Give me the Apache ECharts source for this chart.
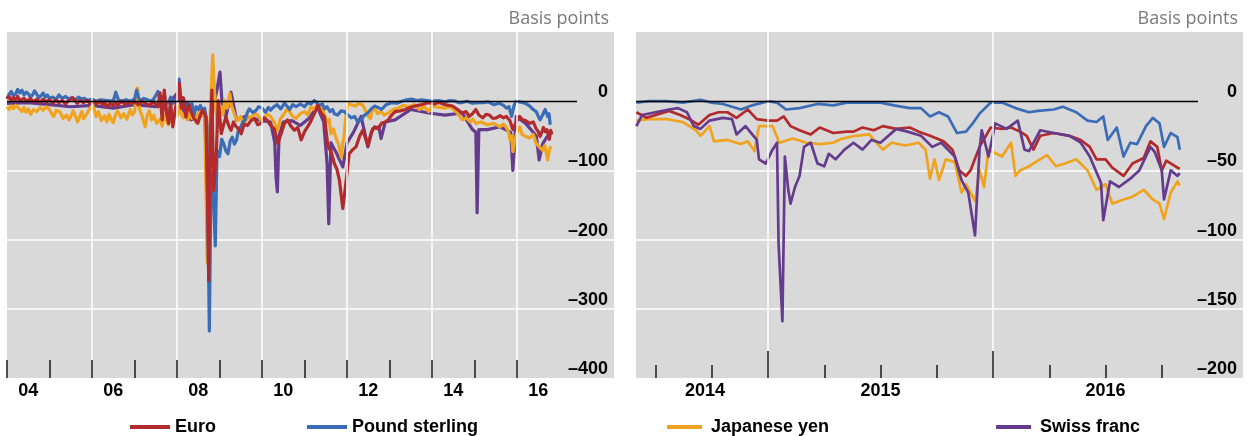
<!DOCTYPE html>
<html>
<head>
<meta charset="utf-8">
<script src="https://cdn.jsdelivr.net/npm/echarts@6/dist/echarts.min.js"></script>
<style>
  html, body { margin: 0; padding: 0; background: #fff; }
  #chart { width: 1249px; height: 436px; }
</style>
</head>
<body>
<div id="chart"></div>
<script>
// Cross-currency basis against the US dollar, in basis points.
// Dates are decimal years.

// ---- Left panel: 2004 onwards ----
const euroFull = [
  [2004.00,3],[2004.05,7],[2004.10,1],[2004.15,5],[2004.20,2],[2004.25,7],[2004.30,1],[2004.40,4],[2004.48,0],
  [2004.55,4],[2004.62,-1],[2004.70,3],[2004.78,-2],[2004.85,3],[2004.92,-1],
  [2005.00,2],[2005.08,-3],[2005.15,2],[2005.22,-2],[2005.30,1],[2005.38,-4],[2005.45,1],[2005.55,5],[2005.65,-3],
  [2005.72,1],[2005.80,-2],[2005.88,1],[2005.95,-3],
  [2006.05,0],[2006.10,-4],[2006.18,0],[2006.25,-5],[2006.30,-1],[2006.35,-9],[2006.42,-3],[2006.50,-6],[2006.55,-1],
  [2006.60,-6],[2006.70,0],[2006.78,-5],[2006.85,-1],[2006.92,-4],
  [2007.00,-1],[2007.10,-5],[2007.18,0],[2007.25,-3],[2007.35,-6],[2007.45,-1],[2007.55,-8],[2007.60,12],[2007.65,-27],
  [2007.70,16],[2007.75,-15],[2007.80,-32],[2007.85,-2],[2007.90,-37],[2007.97,-8],
  [2008.05,26],[2008.10,-10],[2008.15,5],[2008.21,-23],[2008.27,-5],[2008.33,-15],[2008.40,-25],[2008.49,-32],
  [2008.55,-20],[2008.60,-13],[2008.68,-22],[2008.72,-153],[2008.745,-259],[2008.78,-57],[2008.82,16],
  [2008.86,-129],[2008.92,-81],[2008.97,1],
  [2009.04,-47],[2009.10,-33],[2009.15,-23],[2009.22,-36],[2009.27,-42],[2009.33,-30],[2009.38,-36],[2009.45,-40],
  [2009.51,-47],[2009.58,-33],[2009.66,-35],[2009.74,-28],[2009.82,-25],[2009.90,-34],[2009.98,-32],
  [2010.05,-24],[2010.13,-28],[2010.20,-35],[2010.29,-40],[2010.37,-61],[2010.45,-47],[2010.52,-33],[2010.60,-27],
  [2010.68,-36],[2010.76,-42],[2010.84,-38],[2010.92,-56],
  [2011.00,-44],[2011.07,-37],[2011.14,-30],[2011.20,-22],[2011.26,-14],[2011.31,-6],[2011.40,-18],[2011.47,-23],
  [2011.55,-66],[2011.62,-72],[2011.70,-90],[2011.76,-98],
  [2011.82,-114],[2011.90,-155],[2011.98,-114],[2012.05,-76],[2012.13,-70],[2012.21,-66],[2012.30,-50],[2012.37,-42],
  [2012.49,-64],[2012.57,-45],[2012.65,-37],[2012.73,-40],[2012.81,-32],[2012.90,-30],[2012.97,-27],[2013.05,-20],
  [2013.13,-15],[2013.25,-14],[2013.37,-12],[2013.48,-9],
  [2013.60,-7],[2013.75,-5],[2013.92,-2],[2014.05,-4],[2014.16,-2],[2014.30,-5],[2014.48,-7],[2014.60,-12],
  [2014.71,-17],[2014.80,-15],[2014.87,-22],[2014.95,-18],[2015.03,-12],[2015.10,-20],
  [2015.19,-24],[2015.27,-19],[2015.35,-20],[2015.43,-25],[2015.51,-24],[2015.60,-21],[2015.68,-24],[2015.75,-22],
  [2015.83,-28],[2015.90,-41],[2015.98,-30],[2016.06,-22],[2016.13,-27],[2016.20,-28],
  [2016.30,-32],[2016.38,-30],[2016.45,-40],[2016.50,-44],[2016.54,-51],[2016.58,-45],[2016.62,-38],[2016.66,-44],
  [2016.70,-41],[2016.73,-48],[2016.76,-55],[2016.79,-42],[2016.82,-48]
];
const poundFull = [
  [2004.00,4],[2004.05,10],[2004.10,14],[2004.15,8],[2004.20,10],[2004.25,17],[2004.30,12],[2004.35,16],[2004.40,9],
  [2004.45,13],[2004.50,11],[2004.55,6],[2004.60,9],[2004.65,15],[2004.70,10],[2004.75,5],[2004.80,8],[2004.85,12],
  [2004.90,6],[2004.95,9],[2005.00,4],[2005.08,6],[2005.15,2],[2005.22,9],[2005.30,4],[2005.38,7],[2005.45,3],
  [2005.52,5],[2005.60,1],[2005.68,6],[2005.75,3],[2005.82,4],[2005.90,1],[2006.00,3],[2006.10,0],[2006.20,2],
  [2006.35,1],[2006.50,0],[2006.56,13],[2006.62,2],[2006.70,0],[2006.80,2],[2006.90,0],
  [2007.00,3],[2007.05,16],[2007.10,4],[2007.15,1],[2007.22,4],[2007.30,2],[2007.38,0],[2007.45,3],[2007.55,14],
  [2007.60,2],[2007.65,7],[2007.72,-4],[2007.80,-2],[2007.85,6],
  [2007.90,-3],[2008.00,3],[2008.05,32],[2008.10,-5],[2008.15,4],[2008.20,-12],[2008.25,-2],[2008.30,-8],[2008.35,-3],
  [2008.40,-20],[2008.45,-8],[2008.50,-12],
  [2008.55,-6],[2008.60,-15],[2008.65,-10],[2008.70,-30],[2008.76,-332],[2008.80,-105],[2008.86,-143],[2008.90,-209],
  [2008.94,-71],[2009.00,-80],[2009.05,-55],[2009.10,-62],[2009.15,-72],[2009.20,-76],[2009.25,-58],[2009.30,-52],
  [2009.35,-62],[2009.40,-56],[2009.45,-40],[2009.50,-37],[2009.55,-30],[2009.60,-27],[2009.65,-17],
  [2009.70,-11],[2009.78,-16],[2009.85,-14],[2009.92,-8],[2010.00,-10],[2010.08,-16],[2010.15,-9],[2010.20,-13],
  [2010.28,-8],[2010.35,-5],[2010.44,-11],[2010.53,-3],[2010.60,-8],[2010.65,-12],
  [2010.72,-5],[2010.80,-8],[2010.90,-4],[2011.00,-8],[2011.08,-2],[2011.15,-4],[2011.23,1],[2011.30,-3],[2011.35,-6],
  [2011.42,-4],[2011.47,-11],[2011.53,-8],[2011.60,-15],[2011.66,-12],[2011.70,-18],[2011.78,-20],[2011.86,-14],
  [2011.94,-15],[2012.02,-20],[2012.10,-24],[2012.18,-22],[2012.25,-30],[2012.33,-27],[2012.41,-20],[2012.49,-17],
  [2012.57,-11],[2012.65,-7],[2012.73,-9],[2012.81,-12],[2012.92,-5],
  [2013.05,-2],[2013.17,-3],[2013.29,0],[2013.40,2],[2013.52,3],[2013.64,1],[2013.76,2],[2013.88,1],[2014.00,0],
  [2014.15,1],[2014.30,-1],[2014.42,1],[2014.55,0],[2014.62,-2],[2014.70,-2],[2014.82,0],
  [2014.95,-3],[2015.08,-2],[2015.20,-2],[2015.32,-1],[2015.45,-5],[2015.58,-3],[2015.68,-6],[2015.75,-10],
  [2015.81,-8],[2015.87,-22],[2015.93,-6],[2015.98,0],[2016.06,-1],[2016.14,-2],[2016.22,-4],[2016.30,-7],
  [2016.38,-12],[2016.45,-15],[2016.50,-22],[2016.54,-27],[2016.60,-20],[2016.66,-12],[2016.72,-22],[2016.75,-18],
  [2016.78,-34]
];
const yenFull = [
  [2004.00,-8],[2004.05,-12],[2004.10,-7],[2004.15,-11],[2004.20,-6],[2004.28,-10],[2004.35,-15],[2004.40,-9],
  [2004.45,-16],[2004.50,-11],[2004.56,-19],[2004.62,-12],[2004.70,-15],[2004.78,-9],[2004.85,-13],[2004.92,-8],
  [2005.00,-12],[2005.05,-18],[2005.10,-22],[2005.16,-13],[2005.25,-16],[2005.32,-25],[2005.40,-20],[2005.46,-27],
  [2005.50,-22],[2005.56,-14],[2005.60,-20],[2005.66,-30],[2005.70,-24],[2005.76,-15],[2005.80,-25],[2005.88,-18],
  [2005.95,-10],[2006.02,-6],[2006.05,-12],[2006.10,-22],[2006.15,-15],[2006.22,-28],[2006.30,-21],[2006.35,-30],
  [2006.40,-19],[2006.45,-26],[2006.50,-31],[2006.55,-20],[2006.60,-14],[2006.68,-24],[2006.75,-18],[2006.82,-26],
  [2006.90,-12],[2006.95,-20],[2007.00,-15],[2007.07,19],[2007.12,-12],[2007.18,-22],[2007.25,-37],[2007.30,-20],
  [2007.35,-14],[2007.40,-27],[2007.45,-20],[2007.52,-32],[2007.60,-26],[2007.65,-36],[2007.70,-20],[2007.75,-28],
  [2007.80,-34],[2007.85,-20],[2007.90,-27],[2007.95,-14],[2008.00,-22],[2008.05,-8],
  [2008.10,-18],[2008.15,-24],[2008.20,-15],[2008.25,-27],[2008.30,-18],[2008.35,-25],[2008.40,-20],[2008.45,-31],
  [2008.50,-18],[2008.55,-10],[2008.60,-20],[2008.65,-13],[2008.71,-233],
  [2008.76,-57],[2008.84,67],[2008.88,15],[2008.95,-37],[2009.00,-15],[2009.04,-8],[2009.08,-20],[2009.12,1],
  [2009.18,-10],[2009.24,11],[2009.28,-6],
  [2009.32,-13],[2009.38,-24],[2009.43,-28],[2009.50,-22],[2009.56,-33],[2009.60,-30],[2009.68,-22],[2009.75,-25],
  [2009.82,-17],[2009.90,-20],[2009.98,-28],[2010.05,-25],[2010.12,-18],[2010.20,-22],[2010.28,-30],
  [2010.37,-42],[2010.43,-26],[2010.50,-20],[2010.58,-12],[2010.65,-15],[2010.72,-22],[2010.80,-25],[2010.90,-18],
  [2011.00,-15],[2011.08,-20],[2011.15,-8],[2011.22,-12],[2011.30,-5],[2011.38,-10],
  [2011.45,-15],[2011.52,-30],[2011.58,-26],[2011.62,-47],[2011.68,-40],[2011.75,-55],[2011.80,-62],[2011.86,-81],
  [2011.90,-60],[2011.93,-50],[2011.97,-22],[2012.02,-3],[2012.10,-5],
  [2012.20,-7],[2012.28,-3],[2012.37,-6],[2012.45,-15],[2012.50,-22],[2012.55,-25],[2012.60,-12],[2012.65,-10],
  [2012.72,-18],[2012.80,-15],[2012.88,-20],[2012.97,-17],
  [2013.08,-12],[2013.20,-10],[2013.32,-6],[2013.45,-8],[2013.58,-5],[2013.70,-12],[2013.82,-8],[2013.92,-15],
  [2014.00,-7],[2014.15,-9],[2014.30,-10],[2014.42,-8],[2014.55,-14],[2014.63,-20],
  [2014.71,-27],[2014.80,-24],[2014.90,-30],[2014.96,-26],[2015.03,-32],[2015.15,-30],[2015.30,-34],[2015.45,-32],
  [2015.60,-37],[2015.68,-33],[2015.75,-38],[2015.80,-45],[2015.83,-56],[2015.87,-50],
  [2015.90,-73],[2015.95,-55],[2016.00,-45],[2016.06,-37],[2016.12,-48],[2016.20,-51],[2016.30,-53],[2016.38,-48],
  [2016.45,-61],[2016.52,-66],[2016.60,-71],[2016.65,-64],[2016.70,-78],[2016.72,-85],[2016.76,-70],
  [2016.80,-65]
];
const swissFull = [
  [2004.00,-3],[2004.50,-2],[2005.00,-5],[2005.50,-8],[2006.00,-6],[2006.50,-10],[2007.00,-5],[2007.50,-8],
  [2007.70,5],[2007.80,-32],[2007.85,0],[2008.00,11],[2008.20,-20],[2008.33,-27],[2008.50,-22],[2008.65,-20],
  [2008.70,-100],[2008.73,-153],[2008.77,-40],[2008.85,-10],[2008.95,20],[2009.01,42],[2009.06,-3],
  [2009.15,-23],[2009.27,13],[2009.40,-27],[2009.60,-22],[2009.80,-25],[2010.00,-28],[2010.20,-30],
  [2010.30,-60],[2010.33,-110],[2010.36,-131],[2010.40,-50],[2010.50,-30],[2010.70,-28],[2010.90,-35],
  [2011.10,-25],[2011.30,-8],[2011.45,-30],[2011.53,-90],[2011.57,-177],[2011.62,-60],[2011.75,-75],
  [2011.90,-95],[2012.00,-60],[2012.15,-45],[2012.33,-22],[2012.49,-66],[2012.60,-40],[2012.75,-37],
  [2012.80,-54],[2012.90,-30],[2013.13,-27],[2013.50,-12],[2013.92,-17],[2014.30,-20],[2014.71,-17],
  [2014.95,-41],[2015.03,-45],[2015.06,-161],[2015.10,-41],[2015.30,-41],[2015.60,-37],[2015.85,-45],
  [2015.90,-100],[2015.98,-22],[2016.20,-32],[2016.45,-50],[2016.52,-85],[2016.60,-62],[2016.70,-52],
  [2016.80,-45]
];

// ---- Right panel: mid-2014 onwards ----
const euroRecent = [
  [2014.415,-8],[2014.46,-12],[2014.52,-9],[2014.56,-7],[2014.61,-10],[2014.65,-13],[2014.69,-17],[2014.74,-10],
  [2014.78,-8],[2014.82,-8],[2014.86,-12],[2014.91,-6],[2014.95,-13],[2015.00,-14],[2015.04,-14],[2015.07,-11],
  [2015.10,-18],[2015.14,-21],[2015.19,-24],[2015.23,-19],[2015.29,-23],[2015.35,-22],[2015.38,-22],
  [2015.42,-19],[2015.47,-21],[2015.51,-18],[2015.57,-20],[2015.63,-19],[2015.67,-22],[2015.72,-25],
  [2015.78,-29],[2015.82,-35],[2015.85,-50],[2015.88,-54],[2015.90,-50],[2015.94,-33],[2015.99,-19],
  [2016.04,-20],[2016.08,-19],[2016.12,-22],[2016.15,-25],[2016.18,-35],[2016.21,-25],[2016.27,-23],
  [2016.34,-25],[2016.39,-28],[2016.43,-33],[2016.46,-42],[2016.50,-42],[2016.53,-48],[2016.58,-54],
  [2016.62,-45],[2016.67,-41],[2016.70,-29],[2016.73,-33],[2016.75,-50],[2016.77,-43],[2016.80,-46],
  [2016.83,-49]
];
const poundRecent = [
  [2014.415,-1],[2014.47,0],[2014.55,0],[2014.62,-1],[2014.70,1],[2014.75,-1],[2014.80,-2],[2014.88,-6],
  [2014.93,-3],[2015.00,0],[2015.04,-1],[2015.08,-6],[2015.14,-5],[2015.22,-2],[2015.29,-3],[2015.35,-1],
  [2015.42,-1],[2015.50,-1],[2015.56,-3],[2015.63,-5],[2015.68,-5],[2015.72,-11],[2015.76,-8],[2015.80,-11],
  [2015.84,-23],[2015.88,-22],[2015.91,-16],[2015.94,-9],[2015.99,-1],[2016.04,-1],[2016.10,-5],[2016.16,-8],
  [2016.20,-7],[2016.27,-6],[2016.31,-4],[2016.37,-8],[2016.42,-14],[2016.46,-15],[2016.49,-11],[2016.51,-28],
  [2016.55,-19],[2016.58,-40],[2016.61,-30],[2016.64,-31],[2016.68,-18],[2016.71,-12],[2016.74,-16],
  [2016.76,-33],[2016.79,-23],[2016.82,-26],[2016.83,-35]
];
const yenRecent = [
  [2014.415,-14],[2014.47,-13],[2014.55,-13],[2014.62,-15],[2014.68,-21],[2014.70,-25],[2014.74,-18],
  [2014.76,-29],[2014.82,-28],[2014.88,-31],[2014.91,-29],[2014.94,-36],[2014.96,-18],[2015.02,-18],
  [2015.05,-30],[2015.11,-27],[2015.17,-30],[2015.23,-31],[2015.29,-30],[2015.33,-27],[2015.39,-25],
  [2015.45,-24],[2015.51,-35],[2015.55,-30],[2015.61,-32],[2015.67,-30],[2015.70,-35],[2015.72,-56],
  [2015.74,-42],[2015.76,-57],[2015.79,-42],[2015.83,-44],[2015.86,-66],[2015.88,-60],[2015.92,-72],
  [2015.94,-50],[2015.96,-62],[2015.98,-35],[2016.04,-40],[2016.08,-30],[2016.10,-54],[2016.12,-50],
  [2016.16,-47],[2016.20,-43],[2016.24,-39],[2016.28,-47],[2016.32,-45],[2016.37,-42],[2016.42,-50],
  [2016.46,-64],[2016.50,-60],[2016.53,-74],[2016.58,-71],[2016.62,-69],[2016.67,-64],[2016.71,-71],
  [2016.74,-74],[2016.76,-85],[2016.79,-66],[2016.82,-58],[2016.83,-61]
];
const swissRecent = [
  [2014.415,-18],[2014.44,-10],[2014.50,-8],[2014.56,-6],[2014.60,-5],[2014.64,-8],[2014.67,-18],[2014.70,-20],
  [2014.74,-14],[2014.80,-12],[2014.84,-13],[2014.86,-24],[2014.90,-18],[2014.95,-28],[2014.96,-42],
  [2014.99,-45],[2015.02,-35],[2015.04,-30],[2015.047,-103],[2015.064,-159],[2015.075,-40],[2015.09,-64],
  [2015.10,-74],[2015.12,-62],[2015.14,-54],[2015.16,-33],[2015.19,-30],[2015.22,-45],[2015.25,-47],
  [2015.27,-38],[2015.30,-42],[2015.34,-35],[2015.38,-30],[2015.42,-35],[2015.46,-28],[2015.50,-30],
  [2015.57,-20],[2015.62,-22],[2015.68,-25],[2015.73,-33],[2015.77,-30],[2015.83,-40],[2015.86,-57],
  [2015.89,-66],[2015.92,-97],[2015.94,-35],[2015.95,-21],[2015.98,-40],[2016.01,-16],[2016.06,-20],
  [2016.11,-14],[2016.14,-35],[2016.16,-36],[2016.21,-21],[2016.27,-23],[2016.34,-25],[2016.39,-30],
  [2016.43,-40],[2016.48,-59],[2016.49,-86],[2016.52,-58],[2016.56,-62],[2016.61,-56],[2016.65,-50],
  [2016.70,-33],[2016.72,-37],[2016.75,-50],[2016.76,-71],[2016.79,-50],[2016.82,-54],[2016.83,-52]
];

// ---- Axis ticks and labels ----
const leftTickYears = [2004,2005,2006,2007,2008,2009,2010,2011,2012,2013,2014,2015,2016];
const leftGridYears = [2006,2008,2010,2012,2014,2016];
const leftLabelYears = [2004.5,2006.5,2008.5,2010.5,2012.5,2014.5,2016.5];
const rightQuarterTicks = [2014.5,2014.75,2015.25,2015.5,2015.75,2016.25,2016.5,2016.75];
const rightYearTicks = [2015,2016];
const rightGridYears = [2015,2016];
const rightLabelYears = [2014.72,2015.5,2016.5];

const COLORS = { euro: '#b22a2b', pound: '#3a6db5', yen: '#f0a31e', swiss: '#653c8d' };
const BOLD = '"Liberation Sans", Arial, sans-serif';
const LIGHT = '"Open Sans", "Noto Sans", sans-serif';

const LEFT_X = [2004, 2018.28];
const RIGHT_X = [2014.4133, 2017.1111];

function xAxisFor(grid, range, ticks, tickLen, labels, fmt) {
  return {
    type: 'value', gridIndex: grid, position: 'bottom', offset: 0, z: 10,
    min: range[0], max: range[1],
    axisLine: { show: false, onZero: false },
    splitLine: { show: false },
    axisTick: { show: true, inside: true, length: tickLen, customValues: ticks,
                lineStyle: { color: '#1a1a1a', width: 1.5 } },
    axisLabel: labels ? {
      customValues: labels, formatter: fmt, margin: 4,
      fontFamily: BOLD, fontWeight: 'bold', fontSize: 18, color: '#000'
    } : { show: false }
  };
}

function yAxisFor(grid, min, max, step) {
  return {
    type: 'value', gridIndex: grid, position: 'right', min: min, max: max, interval: step,
    name: 'Basis points', nameLocation: 'end', nameGap: 4,
    nameTextStyle: { fontFamily: LIGHT, fontSize: 18, color: '#7a7a7a', align: 'right',
                     verticalAlign: 'bottom', padding: [0, 5, 0, 0] },
    axisLine: { show: false }, axisTick: { show: false },
    axisLabel: {
      inside: true, margin: 6, verticalAlign: 'bottom', showMaxLabel: false,
      fontFamily: BOLD, fontWeight: 'bold', fontSize: 18, color: '#000',
      formatter: v => String(v).replace('-', '\u2013')
    },
    splitLine: { show: true, lineStyle: { width: 1.5,
      color: ['rgba(0,0,0,0)', '#fff', '#fff', '#fff', 'rgba(0,0,0,0)', 'rgba(0,0,0,0)'] } }
  };
}

function frame(axis, gridYears, zeroFrom, zeroTo) {
  return {
    type: 'line', xAxisIndex: axis, yAxisIndex: axis === 0 ? 0 : 1, data: [], silent: true,
    markLine: {
      silent: true, animation: false, symbol: ['none', 'none'], label: { show: false },
      emphasis: { disabled: true },
      lineStyle: { color: '#fff', width: 1.5, type: 'solid' },
      data: gridYears.map(y => ({ xAxis: y })).concat([[
        { coord: [zeroFrom, 0], lineStyle: { color: '#000', width: 1.3, type: 'solid' } },
        { coord: [zeroTo, 0] }
      ]])
    }
  };
}

function line(name, data, xi, yi, color, w) {
  return {
    name: name, type: 'line', xAxisIndex: xi, yAxisIndex: yi, data: data,
    symbol: 'none', showSymbol: false,
    lineStyle: { color: color, width: w, join: 'round' }, itemStyle: { color: color }
  };
}

const legendText = { fontFamily: BOLD, fontWeight: 'bold', fontSize: 18, color: '#000' };

const option = {
  animation: false,
  backgroundColor: '#fff',
  grid: [
    { left: 7, top: 32, width: 607, height: 346, show: true, backgroundColor: '#d9d9d9', borderWidth: 0 },
    { left: 636, top: 32, width: 607, height: 346, show: true, backgroundColor: '#d9d9d9', borderWidth: 0 }
  ],
  xAxis: [
    xAxisFor(0, LEFT_X, leftTickYears, 18, leftLabelYears, v => String(Math.floor(v)).slice(2)),
    xAxisFor(1, RIGHT_X, rightQuarterTicks, 13, rightLabelYears, v => String(Math.floor(v))),
    xAxisFor(1, RIGHT_X, rightYearTicks, 27, null, null)
  ],
  yAxis: [ yAxisFor(0, -400, 100, 100), yAxisFor(1, -200, 50, 50) ],
  legend: [
    { data: ['Euro', 'Pound sterling'], left: 130, top: 418, padding: 0, itemGap: 91, itemWidth: 40,
      itemHeight: 4, icon: 'rect', textStyle: legendText, selectedMode: false },
    { data: ['Japanese yen', 'Swiss franc'], left: 667, top: 418, padding: 0, itemGap: 167, itemWidth: 35,
      itemHeight: 4, icon: 'rect', selectedMode: false,
      textStyle: Object.assign({ padding: [0, 0, 0, 4] }, legendText) }
  ],
  series: [
    frame(0, leftGridYears, 2004, 2017.41),
    line('Swiss franc', swissFull, 0, 0, COLORS.swiss, 3.2),
    line('Japanese yen', yenFull, 0, 0, COLORS.yen, 3.2),
    line('Pound sterling', poundFull, 0, 0, COLORS.pound, 3.2),
    line('Euro', euroFull, 0, 0, COLORS.euro, 3.2),
    frame(1, rightGridYears, RIGHT_X[0], 2016.911),
    line('Pound sterling', poundRecent, 1, 1, COLORS.pound, 2.7),
    line('Japanese yen', yenRecent, 1, 1, COLORS.yen, 2.7),
    line('Euro', euroRecent, 1, 1, COLORS.euro, 2.7),
    line('Swiss franc', swissRecent, 1, 1, COLORS.swiss, 2.7)
  ]
};

const chart = echarts.init(document.getElementById('chart'), null, { renderer: 'canvas' });
chart.setOption(option);
</script>
</body>
</html>
